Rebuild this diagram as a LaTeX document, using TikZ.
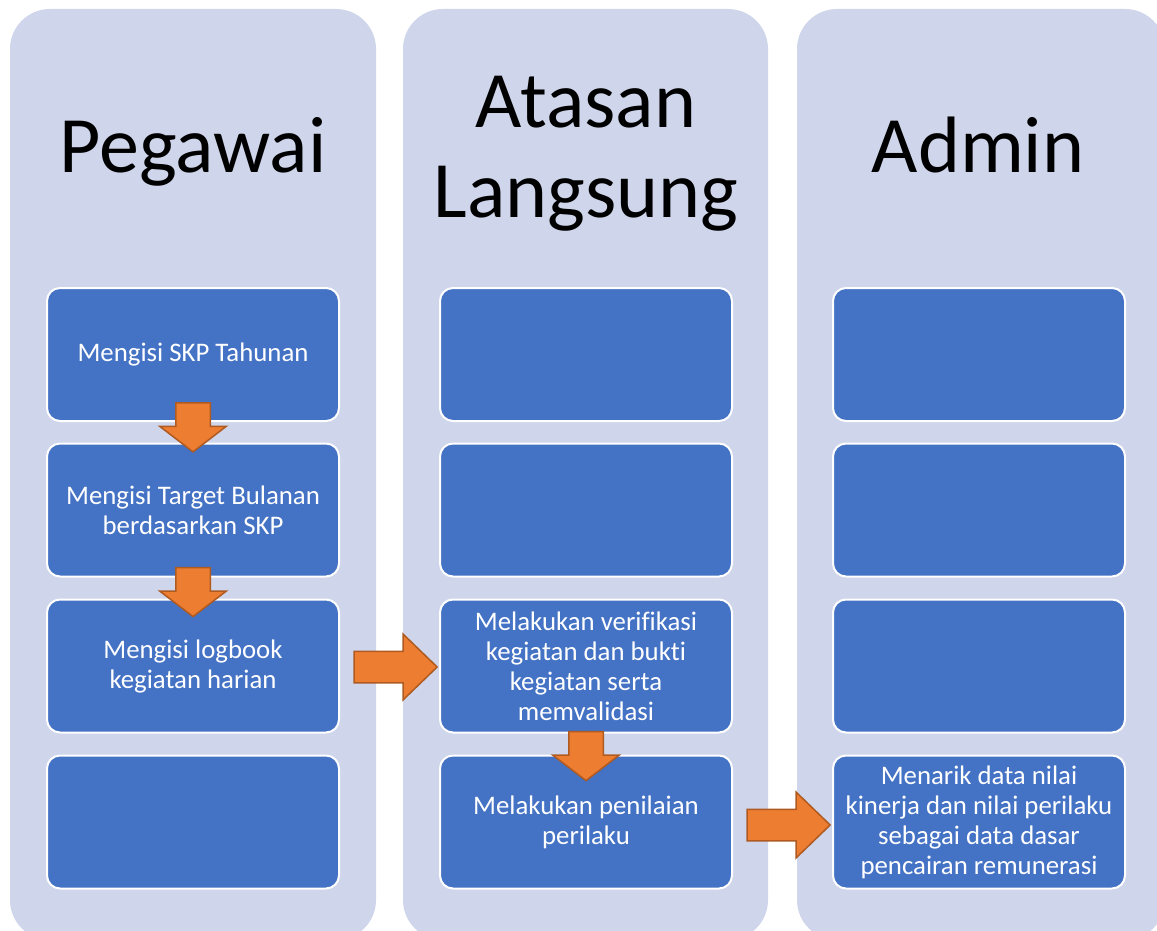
\documentclass[tikz,border=0pt]{standalone}
\usepackage{fontspec}
\setmainfont{Carlito}[Ligatures=NoCommon]
\usetikzlibrary{calc,shapes.arrows}

\definecolor{lanefill}{HTML}{CFD5EA}
\definecolor{taskfill}{HTML}{4472C4}
\definecolor{arrowfill}{HTML}{ED7D31}
\definecolor{arrowline}{HTML}{AE5A21}

\tikzset{
  lane/.style={fill=lanefill, rounded corners=40pt},
  lanetitle/.style={text=black, font=\fontsize{80}{89}\selectfont, anchor=base, inner sep=0pt},
  task/.style={draw=white, line width=2pt, rounded corners=13pt, fill=taskfill, text=white,
    minimum width=292pt, minimum height=133pt, align=center, inner sep=0pt,
    font=\fontsize{26.8}{30}\selectfont},
  blockarrow/.style={single arrow, fill=arrowfill, draw=arrowline, line width=1.5pt,
    inner xsep=0pt, single arrow head indent=0pt},
  downarrow/.style={blockarrow, rotate=-90, minimum height=49pt, inner ysep=16.5pt,
    single arrow head extend=16pt, single arrow tip angle=105},
  rightarrow/.style={blockarrow, minimum height=83pt, inner ysep=15pt,
    single arrow head extend=17pt, single arrow tip angle=88}
}

\begin{document}
\begin{tikzpicture}[x=1pt,y=-1pt]
  \useasboundingbox (0,0) rectangle (1157,931);
  \clip (0,0) rectangle (1157,931);

  % lanes
  \fill[lane] (10,9) rectangle (376,940);
  \fill[lane] (403,9) rectangle (768,940);
  \fill[lane] (797,9) rectangle (1165,940);

  \node[lanetitle] (t1) at (193,172) {Pegawai};
  \node[lanetitle] (t2a) at (586,128) {Atasan};
  \node[lanetitle] (t2b) at (586,217) {Langsung};
  \node[lanetitle] (t3) at (978,172) {Admin};

  % Pegawai
  \node[task] (p1) at (193,354.5) {Mengisi SKP Tahunan};
  \node[task] (p2) at (193,510) {Mengisi Target Bulanan\\berdasarkan SKP};
  \node[task] (p3) at (193,666) {Mengisi logbook\\kegiatan harian};
  \node[task] (p4) at (193,822) {};

  % Atasan Langsung
  \node[task] (q1) at (586,354.5) {};
  \node[task] (q2) at (586,510) {};
  \node[task] (q3) at (586,666) {Melakukan verifikasi\\kegiatan dan bukti\\kegiatan serta\\memvalidasi};
  \node[task] (q4) at (586,822) {Melakukan penilaian\\perilaku};

  % Admin
  \node[task] (r1) at (979,354.5) {};
  \node[task] (r2) at (979,510) {};
  \node[task] (r3) at (979,666) {};
  \node[task] (r4) at (979,822) {Menarik data nilai\\kinerja dan nilai perilaku\\sebagai data dasar\\pencairan remunerasi};

  % flow
  \node[downarrow] (d1) at ($(p1.south)!.5!(p2.north)+(0,-11.5)$) {};
  \node[downarrow] (d2) at ($(p2.south)!.5!(p3.north)+(0,-2.5)$) {};
  \node[rightarrow] (h1) at ($(p3.east)!.5!(q3.west)+(-2,1)$) {};
  \node[downarrow] (d3) at ($(q3.south)!.5!(q4.north)+(0,5.5)$) {};
  \node[rightarrow] (h2) at ($(q4.east)!.5!(r4.west)+(-2,3)$) {};
\end{tikzpicture}
\end{document}
